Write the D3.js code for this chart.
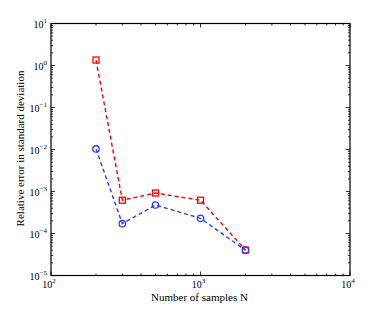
<!DOCTYPE html>
<html>
<head>
<meta charset="utf-8">
<script src="https://cdn.jsdelivr.net/npm/d3@7"></script>
<style>
  body { margin: 0; background: #fff; }
  text { font-family: "Liberation Serif", "DejaVu Serif", serif; fill: #000; }
</style>
</head>
<body>
<div id="chart"></div>
<script>
// data
var samples = [200, 300, 500, 1000, 2000];
var errRed = [1.35, 6.2e-4, 9.2e-4, 6.2e-4, 4.05e-5];
var errBlue = [1.03e-2, 1.71e-4, 4.77e-4, 2.3e-4, 4.0e-5];
var xTickExp = [2, 3, 4];
var yTickExp = [1, 0, -1, -2, -3, -4, -5];

var svgWidth = 388, svgHeight = 311;
var margin = { top: 23.5, right: 38, bottom: 35.5, left: 51 };
var w = svgWidth - margin.left - margin.right;
var h = svgHeight - margin.top - margin.bottom;

var svg = d3.select("#chart").append("svg")
    .attr("width", svgWidth)
    .attr("height", svgHeight);
var g = svg.append("g")
    .attr("transform", `translate(${margin.left}, ${margin.top})`);

var x = d3.scaleLog().domain([1e2, 1e4]).range([0, w]);
var y = d3.scaleLog().domain([1e-5, 1e1]).range([h, 0]);

// minor + major ticks on all four sides, pointing inward
var xMinor = [], yMinor = [];
for (var e = 2; e < 4; e++) for (var m = 2; m < 10; m++) xMinor.push(m * Math.pow(10, e));
for (var e = -5; e < 1; e++) for (var m = 2; m < 10; m++) yMinor.push(m * Math.pow(10, e));
var xMajor = xTickExp.map(d => Math.pow(10, d));
var yMajor = yTickExp.map(d => Math.pow(10, d));

var ticks = g.append("g").attr("stroke", "#000").attr("stroke-width", 0.8);
function tickX(vals, len) {
  vals.forEach(function(v) {
    ticks.append("line").attr("x1", x(v)).attr("x2", x(v)).attr("y1", h).attr("y2", h - len);
    ticks.append("line").attr("x1", x(v)).attr("x2", x(v)).attr("y1", 0).attr("y2", len);
  });
}
function tickY(vals, len) {
  vals.forEach(function(v) {
    ticks.append("line").attr("y1", y(v)).attr("y2", y(v)).attr("x1", 0).attr("x2", len);
    ticks.append("line").attr("y1", y(v)).attr("y2", y(v)).attr("x1", w).attr("x2", w - len);
  });
}
tickX(xMinor, 2); tickX(xMajor, 4);
tickY(yMinor, 2); tickY(yMajor, 4);

g.append("rect")
    .attr("width", w).attr("height", h)
    .attr("fill", "none").attr("stroke", "#000").attr("stroke-width", 1.2);

// tick labels 10^n
xTickExp.forEach(function(e) {
  var t = g.append("text")
      .attr("x", x(Math.pow(10, e)) - 2).attr("y", h + 12)
      .attr("text-anchor", "middle").style("font-size", "10px");
  t.append("tspan").text("10");
  t.append("tspan").attr("dy", -5).style("font-size", "7px").text(e);
});
yTickExp.forEach(function(e) {
  var t = g.append("text")
      .attr("x", -4).attr("y", y(Math.pow(10, e)) + 4)
      .attr("text-anchor", "end").style("font-size", "10px");
  t.append("tspan").text("10");
  t.append("tspan").attr("dy", -5).style("font-size", "7px").text(e < 0 ? "\u2212" + (-e) : e);
});

// axis titles
g.append("text")
    .attr("x", w / 2 - 1).attr("y", h + 25)
    .attr("text-anchor", "middle").style("font-size", "11px")
    .text("Number of samples N");
g.append("text")
    .attr("transform", `translate(${-27}, ${h / 2 - 1}) rotate(-90)`)
    .attr("text-anchor", "middle").style("font-size", "11px")
    .text("Relative error in standard deviation");

// series
var lineGen = d3.line().x((d, i) => x(samples[i])).y(d => y(d));
g.append("path").attr("d", lineGen(errRed))
    .attr("fill", "none").attr("stroke", "#ff0000")
    .attr("stroke-width", 1.4).attr("stroke-dasharray", "4,3");
g.append("path").attr("d", lineGen(errBlue))
    .attr("fill", "none").attr("stroke", "#2a3cff")
    .attr("stroke-width", 1.4).attr("stroke-dasharray", "4,3");

g.selectAll(".sq").data(errRed).enter().append("rect")
    .attr("x", (d, i) => x(samples[i]) - 3)
    .attr("y", d => y(d) - 3)
    .attr("width", 6).attr("height", 6)
    .attr("fill", "none").attr("stroke", "#ff0000").attr("stroke-width", 1.3);
g.selectAll(".ci").data(errBlue).enter().append("circle")
    .attr("cx", (d, i) => x(samples[i]))
    .attr("cy", d => y(d))
    .attr("r", 3.2)
    .attr("fill", "none").attr("stroke", "#2a3cff").attr("stroke-width", 1.3);
</script>
</body>
</html>
